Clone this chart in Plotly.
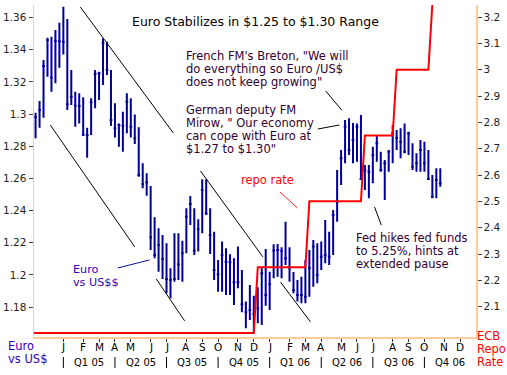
import plotly.graph_objects as go
import pandas as pd

# ---------------- data ----------------
week_start = "2004-11-14"
eur_high = [1.3008, 1.3081, 1.3336, 1.3474, 1.3481, 1.3522, 1.3568, 1.3667, 1.3591, 1.3274,
            1.3139, 1.3129, 1.3104, 1.2915, 1.3098, 1.3274, 1.3263, 1.3471, 1.3450, 1.3274,
            1.3067, 1.2942, 1.3015, 1.3129, 1.3098, 1.2998, 1.2918, 1.2694, 1.2632, 1.2553,
            1.2358, 1.2290, 1.2248, 1.2197, 1.2041, 1.2259, 1.2259, 1.2213, 1.2414, 1.2491,
            1.2414, 1.2346, 1.2594, 1.2594, 1.2414, 1.2269, 1.2093, 1.2207, 1.2166, 1.2128,
            1.2103, 1.2176, 1.2031, 1.1834, 1.1938, 1.1871, 1.1923, 1.2051, 1.2161, 1.2020,
            1.2191, 1.2192, 1.2172, 1.2331, 1.2172, 1.2018, 1.1969, 1.1989, 1.2093, 1.2155,
            1.2217, 1.2197, 1.2207, 1.2341, 1.2269, 1.2404, 1.2652, 1.2777, 1.2963, 1.2974,
            1.2944, 1.2942, 1.2994, 1.2683, 1.2683, 1.2797, 1.2870, 1.2766, 1.2714, 1.2777,
            1.2932, 1.2901, 1.2911, 1.2942, 1.2890, 1.2818, 1.2756, 1.2839, 1.2828, 1.2777,
            1.2621, 1.2663, 1.2663]
eur_low = [1.2849, 1.2915, 1.2977, 1.3232, 1.3139, 1.3191, 1.3288, 1.3371, 1.3025, 1.3056,
           1.2921, 1.2942, 1.2864, 1.2729, 1.2870, 1.3036, 1.3087, 1.3181, 1.3243, 1.2926,
           1.2855, 1.2797, 1.2766, 1.2880, 1.2855, 1.2814, 1.2611, 1.2539, 1.2492, 1.2155,
           1.2103, 1.2020, 1.1975, 1.1886, 1.1855, 1.1958, 1.1969, 1.1958, 1.2135, 1.2310,
           1.2124, 1.2145, 1.2259, 1.2373, 1.2130, 1.1969, 1.1896, 1.1896, 1.1875, 1.1875,
           1.1813, 1.1917, 1.1768, 1.1668, 1.1720, 1.1647, 1.1700, 1.1689, 1.1809, 1.1782,
           1.1979, 1.1989, 1.1979, 1.2062, 1.1958, 1.1886, 1.1834, 1.1824, 1.1824, 1.1865,
           1.1927, 1.1948, 1.2031, 1.2072, 1.2062, 1.2124, 1.2331, 1.2559, 1.2694, 1.2745,
           1.2694, 1.2704, 1.2590, 1.2528, 1.2476, 1.2570, 1.2704, 1.2642, 1.2466, 1.2641,
           1.2694, 1.2777, 1.2725, 1.2756, 1.2745, 1.2652, 1.2642, 1.2642, 1.2642, 1.2590,
           1.2476, 1.2476, 1.2548]
eur_close = [1.2980, 1.3025, 1.3299, 1.3460, 1.3228, 1.3454, 1.3452, 1.3450, 1.3061, 1.3108,
             1.3052, 1.3050, 1.2872, 1.2870, 1.3073, 1.3249, 1.3253, 1.3440, 1.3274, 1.2963,
             1.2911, 1.2932, 1.2926, 1.3077, 1.2921, 1.2849, 1.2621, 1.2565, 1.2576, 1.2234,
             1.2124, 1.2186, 1.2099, 1.1975, 1.1969, 1.1975, 1.2066, 1.2135, 1.2362, 1.2441,
             1.2151, 1.2284, 1.2528, 1.2383, 1.2248, 1.2031, 1.2004, 1.2124, 1.2081, 1.2079,
             1.1954, 1.1954, 1.1818, 1.1768, 1.1782, 1.1757, 1.1793, 1.2010, 1.1875, 1.1942,
             1.2151, 1.2155, 1.2149, 1.2103, 1.2045, 1.1906, 1.1875, 1.1875, 1.1865, 1.2043,
             1.2176, 1.1999, 1.2113, 1.2124, 1.2113, 1.2373, 1.2455, 1.2725, 1.2921, 1.2777,
             1.2839, 1.2921, 1.2596, 1.2652, 1.2642, 1.2745, 1.2818, 1.2652, 1.2694, 1.2766,
             1.2880, 1.2851, 1.2828, 1.2766, 1.2880, 1.2673, 1.2694, 1.2777, 1.2694, 1.2596,
             1.2486, 1.2590, 1.2570]

repo_dates = ["2004-11-11", "2005-12-04", "2005-12-11", "2006-03-05", "2006-03-12",
              "2006-06-11", "2006-06-18", "2006-08-06", "2006-08-13", "2006-10-08",
              "2006-10-15", "2006-11-05"]
repo_rate = [2.0, 2.0, 2.25, 2.25, 2.5, 2.5, 2.75, 2.75, 3.0, 3.0, 3.25, 3.25]

month_letters = ["J", "F", "M", "A", "M", "J", "J", "A", "S", "O", "N", "D"] * 2
quarter_labels = ["Q1 05", "Q2 05", "Q3 05", "Q4 05", "Q1 06", "Q2 06", "Q3 06", "Q4 06"]
left_ticks = [1.18, 1.20, 1.22, 1.24, 1.26, 1.28, 1.30, 1.32, 1.34, 1.36]
left_labels = ["1.18", "1.2", "1.22", "1.24", "1.26", "1.28", "1.3", "1.32", "1.34", "1.36"]
right_ticks = [2.1, 2.2, 2.3, 2.4, 2.5, 2.6, 2.7, 2.8, 2.9, 3.0, 3.1, 3.2]
right_labels = ["2.1", "2.2", "2.3", "2.4", "2.5", "2.6", "2.7", "2.8", "2.9", "3", "3.1", "3.2"]

# trend / pointer lines: (date0, price0, date1, price1, colour)
guide_lines = [
    ("2005-02-01", 1.3665, "2005-07-15", 1.2882, "black"),
    ("2004-12-10", 1.2932, "2005-05-08", 1.2174, "black"),
    ("2005-06-15", 1.1975, "2005-08-04", 1.1714, "black"),
    ("2005-09-01", 1.2646, "2005-12-20", 1.2112, "black"),
    ("2006-01-20", 1.1956, "2006-03-14", 1.1708, "black"),
    ("2006-01-19", 1.2516, "2006-02-19", 1.2416, "#ff2020"),
    ("2005-04-08", 1.2043, "2005-06-03", 1.2093, "#1010a0"),
    ("2006-04-10", 1.3143, "2006-05-08", 1.3025, "black"),
    ("2006-03-27", 1.2907, "2006-05-04", 1.2932, "black"),
    ("2006-07-05", 1.2422, "2006-07-17", 1.2310, "black"),
]

# ---------------- geometry ----------------
W, H = 507, 375
L, R, T, B = 34, 476, 5, 337
X_RANGE = ["2004-11-11 05:00", "2006-12-31"]
Y_RANGE = [1.1614, 1.3678]
Y2_RANGE = [1.9848, 3.2456]
FONT = "DejaVu Sans"
TXT = "#330033"
PURPLE = "#3300bb"


def pxp(x):
    return (x - L) / (R - L)


def pyp(y):
    return (B - y) / (B - T)


dates = pd.date_range(week_start, periods=len(eur_close), freq="7D")
all_weeks = pd.date_range(week_start, "2006-12-31", freq="7D")
month_ticks = []
for d in all_weeks:
    if d.year >= 2005 and (not month_ticks or d.month != month_ticks[-1].month):
        month_ticks.append(d)
quarter_starts = [d for d in month_ticks if d.month in (1, 4, 7, 10)]
quarter_ends = quarter_starts[1:] + [pd.Timestamp(X_RANGE[1])]

fig = go.Figure()
fig.add_trace(go.Ohlc(
    x=dates, open=eur_close, high=eur_high, low=eur_low, close=eur_close,
    increasing=dict(line=dict(color="#000099", width=2)),
    decreasing=dict(line=dict(color="#000099", width=2)),
    tickwidth=0.35, hoverinfo="skip", showlegend=False,
))
fig.add_trace(go.Scatter(
    x=pd.to_datetime(repo_dates), y=repo_rate, yaxis="y2", mode="lines",
    line=dict(color="#ff0000", width=2), hoverinfo="skip", showlegend=False,
))

shapes = []
for d0, p0, d1, p1, c in guide_lines:
    shapes.append(dict(type="line", xref="x", yref="y", x0=d0, y0=p0, x1=d1, y1=p1,
                       line=dict(color=c, width=1)))
for q in quarter_starts:
    shapes.append(dict(type="line", xref="x", yref="paper", x0=q, x1=q,
                       y0=pyp(357), y1=pyp(368), line=dict(color="black", width=1)))

ann = []


def text(x, y, s, color=TXT, size=11.5, anchor="left"):
    ann.append(dict(xref="paper", yref="paper", x=pxp(x), y=pyp(y), text=s,
                    showarrow=False, xanchor=anchor, yanchor="middle", borderpad=0,
                    font=dict(family=FONT, size=size, color=color)))


def block(x, y0, step, lines, color=TXT, size=11.5, anchor="left"):
    for i, s in enumerate(lines):
        text(x, y0 + i * step, s, color, size, anchor)


text(255.4, 21.5, "Euro Stabilizes in $1.25 to $1.30 Range", color="black", size=12.5, anchor="center")
block(185, 56, 13.1, ["French FM's Breton, \"We will", "do everything so Euro /US$",
                      "does not keep growing\""])
block(185, 110, 13, ["German deputy FM", "Mirow, \" Our economy",
                     "can cope with Euro at", "$1.27 to $1.30\""])
text(240, 179.5, "repo rate", color="#ff0000")
block(355, 238.3, 12.6, ["Fed hikes fed funds", "to 5.25%, hints at", "extended pause"])
block(71.5, 269, 13, ["Euro", "vs US$$"], color=PURPLE, size=11.2)
block(7, 345.5, 13.3, ["Euro", "vs US$"], color=PURPLE)
block(476, 335.5, 13, ["ECB", "Repo", "Rate"], color="#ff0000")

for d, lab in zip(month_ticks, month_letters):
    ann.append(dict(xref="x", yref="paper", x=d, y=pyp(346.8), text=lab, showarrow=False,
                    xanchor="center", yanchor="middle", borderpad=0,
                    font=dict(family=FONT, size=10.5, color="black")))

for q0, q1, lab in zip(quarter_starts, quarter_ends, quarter_labels):
    mid = q0 + (q1 - q0) / 2
    ann.append(dict(xref="x", yref="paper", x=mid, y=pyp(362.3), text=lab, showarrow=False,
                    xanchor="center", yanchor="middle", borderpad=0,
                    font=dict(family=FONT, size=10, color="black")))

fig.update_layout(
    width=W, height=H,
    margin=dict(l=L, r=W - R, t=T, b=H - B, pad=0, autoexpand=False),
    paper_bgcolor="white", plot_bgcolor="white",
    showlegend=False,
    font=dict(family=FONT, size=10.5, color="#222222"),
    xaxis=dict(type="date", range=X_RANGE, showgrid=False, zeroline=False,
               rangeslider=dict(visible=False), automargin=False,
               showline=True, linecolor="#ffcc99", linewidth=1.5,
               tickmode="array", tickvals=month_ticks, showticklabels=False,
               ticks="outside", ticklen=3, tickcolor="#333333"),
    yaxis=dict(range=Y_RANGE, showgrid=False, zeroline=False, automargin=False,
               showline=True, linecolor="#ffcc99", linewidth=1.5,
               tickmode="array", tickvals=left_ticks, ticktext=left_labels,
               ticks="outside", ticklen=4, tickcolor="#444444",
               tickfont=dict(family=FONT, size=10.5, color="#222222")),
    yaxis2=dict(range=Y2_RANGE, overlaying="y", side="right", showgrid=False,
                zeroline=False, showline=True, linecolor="#ffcc99", linewidth=1.5,
                automargin=False,
                tickmode="array", tickvals=right_ticks, ticktext=right_labels,
                ticks="outside", ticklen=4, tickcolor="#444444",
                tickfont=dict(family=FONT, size=10.5, color="#222222")),
    shapes=shapes,
    annotations=ann,
)

fig.write_html("out.html", config={"displayModeBar": False, "staticPlot": True},
               post_script="document.body.style.margin='0px';document.body.style.overflow='hidden';")
